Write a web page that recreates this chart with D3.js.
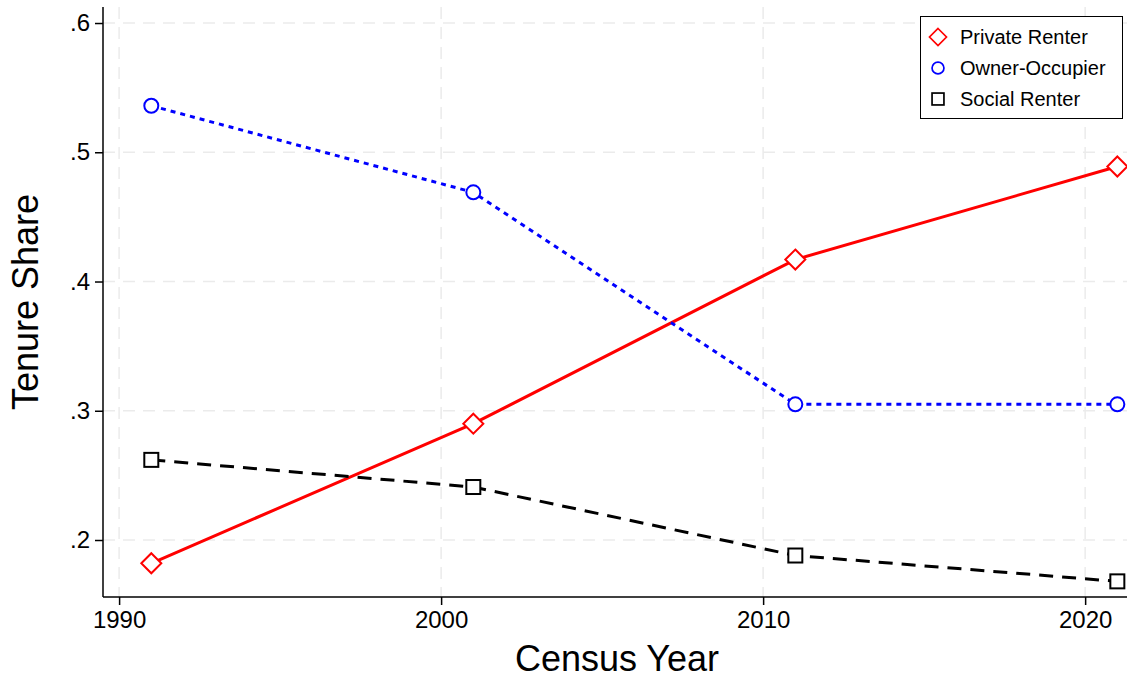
<!DOCTYPE html>
<html><head><meta charset="utf-8">
<script src="https://cdn.jsdelivr.net/npm/d3@7"></script>
<style>body{margin:0;background:#fff}svg{display:block}text{font-family:"Liberation Sans",Arial,sans-serif}</style>
</head><body>
<svg id="c" width="1127" height="682"></svg>
<script>
const years = [1991, 2001, 2011, 2021];
const privateRenter = [0.182, 0.290, 0.417, 0.489];
const ownerOccupier = [0.536, 0.469, 0.305, 0.305];
const socialRenter = [0.262, 0.241, 0.188, 0.168];
const xTicks = [1990, 2000, 2010, 2020];
const yTicks = [0.2, 0.3, 0.4, 0.5, 0.6];
const yTickLabels = [".2", ".3", ".4", ".5", ".6"];
const seriesNames = ["Private Renter", "Owner-Occupier", "Social Renter"];

const svg = d3.select("#c");
const L = 103, R = 1127, T = 7, B = 597;
const x = d3.scaleLinear().domain([1989.5, 2021.3]).range([L, R]);
const y = d3.scaleLinear().domain([0.1559, 0.6124]).range([B, T]);

// grid
const g = svg.append("g");
g.selectAll(".gy").data(yTicks).join("line")
  .attr("x1", L).attr("x2", R).attr("y1", d => y(d)).attr("y2", d => y(d))
  .attr("stroke", "#ebebeb").attr("stroke-width", 1.5).attr("stroke-dasharray", "12,8");
g.selectAll(".gx").data(xTicks).join("line")
  .attr("y1", T).attr("y2", B).attr("x1", d => x(d)).attr("x2", d => x(d))
  .attr("stroke", "#ebebeb").attr("stroke-width", 1.5).attr("stroke-dasharray", "12,8");

// axes
const ya = d3.axisLeft(y).tickValues(yTicks).tickFormat((d, i) => yTickLabels[i]).tickSize(8).tickPadding(5);
const xa = d3.axisBottom(x).tickValues(xTicks).tickFormat(d3.format("d")).tickSize(8).tickPadding(6);
const gy = svg.append("g").attr("transform", `translate(${L},0)`).call(ya);
const gx = svg.append("g").attr("transform", `translate(0,${B})`).call(xa);
[gy, gx].forEach(a => {
  a.attr("font-size", 24).attr("font-family", "Liberation Sans, Arial, sans-serif");
  a.select(".domain").attr("stroke", "#000").attr("stroke-width", 1.5);
  a.selectAll(".tick line").attr("stroke", "#000").attr("stroke-width", 1.5);
  a.selectAll("text").attr("font-size", 24).attr("fill", "#000");
});
gy.select(".domain").attr("d", `M0,${T}V${B}`);
gx.select(".domain").attr("d", `M${L},0H${R}`);

svg.append("text").attr("x", 617).attr("y", 671).attr("text-anchor", "middle").attr("font-size", 36).text("Census Year");
svg.append("text").attr("transform", "translate(38,302) rotate(-90)").attr("text-anchor", "middle").attr("font-size", 36).text("Tenure Share");

const series = [
  {vals: privateRenter, color: "#ff0000", dash: null, sym: "diamond"},
  {vals: ownerOccupier, color: "#0000ff", dash: "5,5", sym: "circle"},
  {vals: socialRenter, color: "#000000", dash: "14,9", sym: "square"}
];
const line = d3.line().x((d, i) => x(years[i])).y(d => y(d));
function marker(sel, sym, color) {
  if (sym === "diamond") sel.append("path").attr("d", "M0,-10L10,0L0,10L-10,0Z");
  else if (sym === "circle") sel.append("circle").attr("r", 7);
  else sel.append("rect").attr("x", -7).attr("y", -7).attr("width", 14).attr("height", 14);
  sel.selectAll("*").attr("fill", "#fff").attr("stroke", color).attr("stroke-width", 2);
}
series.forEach(s => {
  svg.append("path").attr("d", line(s.vals)).attr("fill", "none").attr("stroke", s.color)
    .attr("stroke-width", 3).attr("stroke-dasharray", s.dash);
  s.vals.forEach((v, i) => {
    const m = svg.append("g").attr("transform", `translate(${x(years[i])},${y(v)})`);
    marker(m, s.sym, s.color);
  });
});

// legend
const lg = svg.append("g");
lg.append("rect").attr("x", 920.5).attr("y", 16.5).attr("width", 202).attr("height", 102)
  .attr("fill", "#fff").attr("stroke", "#000").attr("stroke-width", 1);
series.forEach((s, i) => {
  const yy = 37 + i * 31;
  const m = lg.append("g").attr("transform", `translate(938,${yy}) scale(0.85)`);
  marker(m, s.sym, s.color);
  lg.append("text").attr("x", 960).attr("y", yy + 7).attr("font-size", 20).text(seriesNames[i]);
});
</script>
</body></html>
